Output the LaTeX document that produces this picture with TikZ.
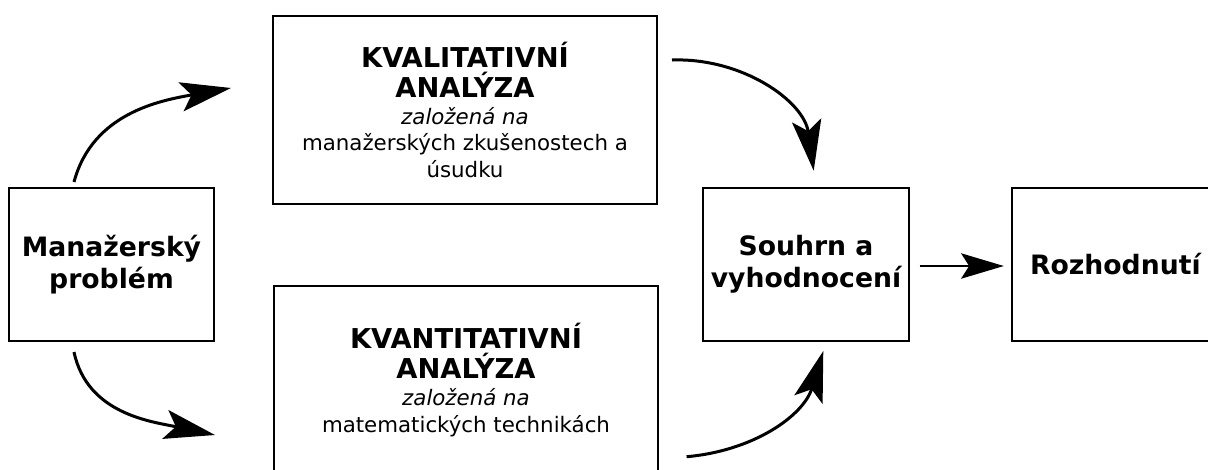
\documentclass[tikz,border=0pt]{standalone}
\usepackage{fontspec}
\setmainfont{DejaVu Sans}
\usetikzlibrary{calc,arrows.meta}

\begin{document}
\begin{tikzpicture}[x=0.75pt, y=0.75pt,
    box/.style={draw, line width=1.5pt, inner sep=0pt, align=center,
      font=\fontsize{16}{20}\selectfont},
    boldbox/.style={box, font=\fontsize{20}{24}\selectfont\bfseries},
    bigarrow/.style={line width=2.25pt, -{Stealth[length=38pt, width=22pt, inset=8pt]}},
    smallarrow/.style={line width=1.5pt, -{Stealth[length=32pt, width=19pt, inset=6pt]}}]

      % Vymezeni obrazku
      \clip (0,0) rectangle (1208,-469);

      % Krabice
      \node[boldbox, minimum width=153.75pt, minimum height=114.75pt] (prob)
        at (111.5,-264.5) {Manažerský\\ problém};
      \node[box, minimum width=288pt, minimum height=141pt] (kval) at (465,-110)
        {{\fontsize{20.5}{21}\selectfont\bfseries KVALITATIVNÍ}\\[2.5pt]
         {\fontsize{20.5}{21}\selectfont\bfseries ANALÝZA}\\
         {\itshape založená na}\\
         manažerských zkušenostech a\\ úsudku};
      \node[box, minimum width=288pt, minimum height=141pt] (kvant) at (466,-380)
        {{\fontsize{20.5}{21}\selectfont\bfseries KVANTITATIVNÍ}\\[2.5pt]
         {\fontsize{20.5}{21}\selectfont\bfseries ANALÝZA}\\
         {\itshape založená na}\\
         matematických technikách};
      \node[boldbox, minimum width=154.5pt, minimum height=114.75pt] (souhrn)
        at (806,-264.5) {Souhrn a\\ vyhodnocení};
      \node[boldbox, align=left, text width=153pt, minimum width=180pt,
        minimum height=114.75pt] (rozh) at (1132,-264.5) {Rozhodnutí};

      % Sipky
      \draw[bigarrow] ($(prob.north)+(-37.5,5)$) to[out=75, in=190]
        ($(kval.west)+(-41,22)$);
      \draw[bigarrow] ($(prob.south)+(-37.5,-10)$) to[out=-78, in=168]
        ($(kvant.west)+(-58,-55)$);
      \draw[bigarrow] ($(kval.east)+(14,50)$) to[out=2, in=98]
        ($(souhrn.north)+(7.7,16.3)$);
      \draw[bigarrow] ($(kvant.east)+(27.6,-76.7)$) to[out=5, in=253]
        ($(souhrn.south)+(17.3,-9)$);
      \draw[smallarrow] ($(souhrn.east)+(9.7,-1.5)$) -- ($(rozh.west)+(-7.2,-1.5)$);
    \end{tikzpicture}
\end{document}
